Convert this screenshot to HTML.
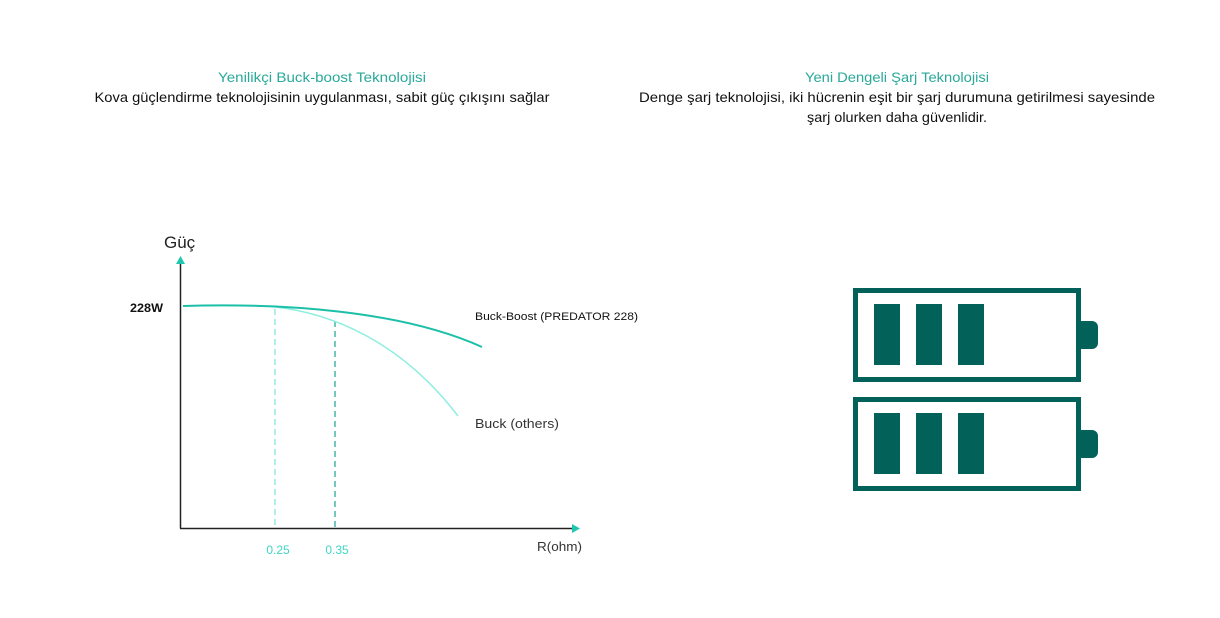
<!DOCTYPE html>
<html><head><meta charset="utf-8"><style>
html,body{margin:0;padding:0;background:#fff}
svg{display:block}
text{font-family:"Liberation Sans",sans-serif}
</style></head><body>
<svg width="1220" height="618" viewBox="0 0 1220 618" xmlns="http://www.w3.org/2000/svg">
<g font-size="14" text-anchor="middle">
<text x="322" y="82" fill="#2aa99a" textLength="208" lengthAdjust="spacingAndGlyphs">Yenilikçi Buck-boost Teknolojisi</text>
<text x="322" y="102" fill="#111" textLength="455" lengthAdjust="spacingAndGlyphs">Kova güçlendirme teknolojisinin uygulanması, sabit güç çıkışını sağlar</text>
<text x="897" y="82" fill="#2aa99a" textLength="184" lengthAdjust="spacingAndGlyphs">Yeni Dengeli Şarj Teknolojisi</text>
<text x="897" y="102" fill="#111" textLength="516" lengthAdjust="spacingAndGlyphs">Denge şarj teknolojisi, iki hücrenin eşit bir şarj durumuna getirilmesi sayesinde</text>
<text x="897" y="122" fill="#111" textLength="180" lengthAdjust="spacingAndGlyphs">şarj olurken daha güvenlidir.</text>
</g>
<line x1="180.5" y1="262" x2="180.5" y2="528.5" stroke="#222" stroke-width="1.5"/>
<polygon points="180.5,256 176,264 185,264" fill="#1fc7b0"/>
<line x1="180" y1="528.5" x2="574" y2="528.5" stroke="#222" stroke-width="1.5"/>
<polygon points="580,528.5 572,524 572,533" fill="#1fc7b0"/>
<text x="164" y="248" font-size="17" fill="#222">Güç</text>
<text x="130" y="312" font-size="12" fill="#111" font-weight="bold" textLength="33" lengthAdjust="spacingAndGlyphs">228W</text>
<line x1="275" y1="309" x2="275" y2="528" stroke="#7fe8da" stroke-width="1.3" stroke-dasharray="6,4"/>
<line x1="335" y1="321" x2="335" y2="528" stroke="#2aa99a" stroke-width="1.3" stroke-dasharray="6,4"/>
<path d="M275,307 C330,313 400,340 458,416" fill="none" stroke="#8eeee0" stroke-width="1.5"/>
<path d="M183,306 C280,303 400,310 482,347" fill="none" stroke="#1cbfa8" stroke-width="2"/>
<text x="475" y="320" font-size="11" fill="#111" textLength="163" lengthAdjust="spacingAndGlyphs">Buck-Boost (PREDATOR 228)</text>
<text x="475" y="428" font-size="13" fill="#333" textLength="84" lengthAdjust="spacingAndGlyphs">Buck (others)</text>
<text x="278" y="554" font-size="12" fill="#3fd6c4" text-anchor="middle">0.25</text>
<text x="337" y="554" font-size="12" fill="#3fd6c4" text-anchor="middle">0.35</text>
<text x="537" y="551" font-size="13" fill="#333" textLength="45" lengthAdjust="spacingAndGlyphs">R(ohm)</text>
<g fill="#02625a">
<rect x="855.5" y="290.5" width="223" height="89" fill="none" stroke="#02625a" stroke-width="5"/>
<rect x="874" y="304" width="26" height="61"/><rect x="916" y="304" width="26" height="61"/><rect x="958" y="304" width="26" height="61"/>
<path d="M1080,321 h12 a6,6 0 0 1 6,6 v16 a6,6 0 0 1 -6,6 h-12z"/>
<rect x="855.5" y="399.5" width="223" height="89" fill="none" stroke="#02625a" stroke-width="5"/>
<rect x="874" y="413" width="26" height="61"/><rect x="916" y="413" width="26" height="61"/><rect x="958" y="413" width="26" height="61"/>
<path d="M1080,430 h12 a6,6 0 0 1 6,6 v16 a6,6 0 0 1 -6,6 h-12z"/>
</g>
</svg>
</body></html>
